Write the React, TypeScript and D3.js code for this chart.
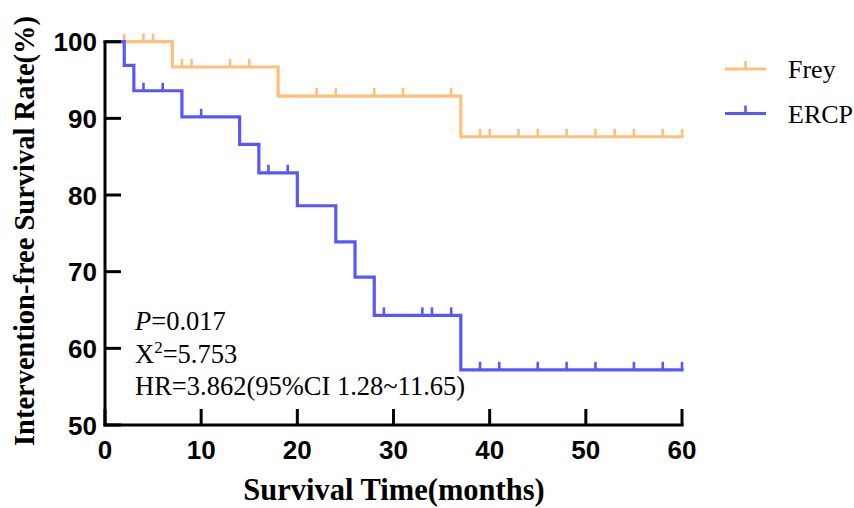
import React from "react";
import * as d3 from "d3";

const xTicks = [0, 10, 20, 30, 40, 50, 60];
const yTicks = [50, 60, 70, 80, 90, 100];

const freyTimes = [0, 7, 18, 37];
const freySurv = [100, 96.7, 92.9, 87.6];
const freyCensor = [2, 4, 5, 8, 9, 13, 15, 22, 24, 28, 31, 36, 39, 40, 43, 45, 48, 51, 53, 55, 58, 60];

const ercpTimes = [0, 2, 3, 8, 14, 16, 20, 24, 26, 28, 37];
const ercpSurv = [100, 96.9, 93.6, 90.2, 86.6, 82.9, 78.6, 73.9, 69.3, 64.3, 57.2];
const ercpCensor = [4, 6, 10, 17, 19, 29, 33, 34, 36, 39, 41, 45, 48, 51, 55, 58, 60];

const seriesNames = ["Frey", "ERCP"];
const seriesColors = ["#FFBE7A", "#5858FA"];

const maxT = 60;

function survAt(times: number[], surv: number[], t: number) {
  let s = surv[0];
  for (let i = 0; i < times.length; i++) if (times[i] <= t) s = surv[i];
  return s;
}

export default function App() {
  const x = d3.scaleLinear().domain([0, 60]).range([105, 682]);
  const y = d3.scaleLinear().domain([50, 100]).range([425, 41.7]);

  const stepLine = (times: number[], surv: number[]) => {
    const pts: [number, number][] = times.map((t, i) => [t, surv[i]]);
    pts.push([maxT, surv[surv.length - 1]]);
    return d3
      .line<[number, number]>()
      .x((d) => x(d[0]))
      .y((d) => y(d[1]))
      .curve(d3.curveStepAfter)(pts) as string;
  };

  const series = [
    { times: freyTimes, surv: freySurv, censor: freyCensor },
    { times: ercpTimes, surv: ercpSurv, censor: ercpCensor },
  ];

  const serif = "'Liberation Serif', 'Times New Roman', serif";
  const sans = "'Liberation Sans', Arial, sans-serif";

  return (
    <svg
      width={854}
      height={508}
      style={{ position: "absolute", left: 0, top: 0, background: "#fff" }}
    >
      {/* curves */}
      {series.map((s, i) => (
        <g key={i}>
          <path
            d={stepLine(s.times, s.surv)}
            fill="none"
            stroke={seriesColors[i]}
            strokeWidth={3.2}
            strokeLinejoin="miter"
            strokeLinecap="square"
          />
          {s.censor.map((c, j) => {
            const v = survAt(s.times, s.surv, c);
            return (
              <line
                key={j}
                x1={x(c)}
                x2={x(c)}
                y1={y(v)}
                y2={y(v) - 8}
                stroke={seriesColors[i]}
                strokeWidth={2.6}
              />
            );
          })}
        </g>
      ))}

      {/* axes */}
      <g stroke="#000" strokeWidth={3}>
        <line x1={x(0)} x2={x(0)} y1={y(100) - 1} y2={y(50) + 1.5} />
        <line x1={x(0) - 1.5} x2={x(60) + 1.5} y1={y(50)} y2={y(50)} />
        {yTicks.map((t) => (
          <line key={"yt" + t} x1={x(0)} x2={x(0) + 16} y1={y(t)} y2={y(t)} />
        ))}
        {xTicks.map((t) => (
          <line key={"xt" + t} x1={x(t)} x2={x(t)} y1={y(50)} y2={y(50) - 16} />
        ))}
      </g>
      {yTicks.map((t) => (
        <text
          key={"yl" + t}
          x={97}
          y={y(t) + 9.5}
          textAnchor="end"
          fontFamily={sans}
          fontWeight="bold"
          fontSize={26}
        >
          {t}
        </text>
      ))}
      {xTicks.map((t) => (
        <text
          key={"xl" + t}
          x={x(t)}
          y={459}
          textAnchor="middle"
          fontFamily={sans}
          fontWeight="bold"
          fontSize={26}
        >
          {t}
        </text>
      ))}

      {/* axis titles */}
      <text
        x={394}
        y={500}
        textAnchor="middle"
        fontFamily={serif}
        fontWeight="bold"
        fontSize={30.5}
      >
        Survival Time(months)
      </text>
      <text
        transform="translate(34,231) rotate(-90)"
        textAnchor="middle"
        fontFamily={serif}
        fontWeight="bold"
        fontSize={28.5}
      >
        Intervention-free Survival Rate(%)
      </text>

      {/* legend */}
      {seriesNames.map((n, i) => {
        const ly = 69 + i * 44.5;
        return (
          <g key={n}>
            <line x1={725} x2={766} y1={ly} y2={ly} stroke={seriesColors[i]} strokeWidth={3.2} />
            <line x1={745.5} x2={745.5} y1={ly} y2={ly - 8} stroke={seriesColors[i]} strokeWidth={2.6} />
            <text x={788} y={ly + 9} fontFamily={serif} fontSize={26}>
              {n}
            </text>
          </g>
        );
      })}

      {/* annotation */}
      <g fontFamily={serif} fontSize={26.5}>
        <text x={135} y={330}>
          <tspan fontStyle="italic">P</tspan>=0.017
        </text>
        <text x={135} y={363}>
          X<tspan dy={-10} fontSize={17}>2</tspan>
          <tspan dy={10}>=5.753</tspan>
        </text>
        <text x={135} y={395}>
          HR=3.862(95%CI 1.28~11.65)
        </text>
      </g>
    </svg>
  );
}
